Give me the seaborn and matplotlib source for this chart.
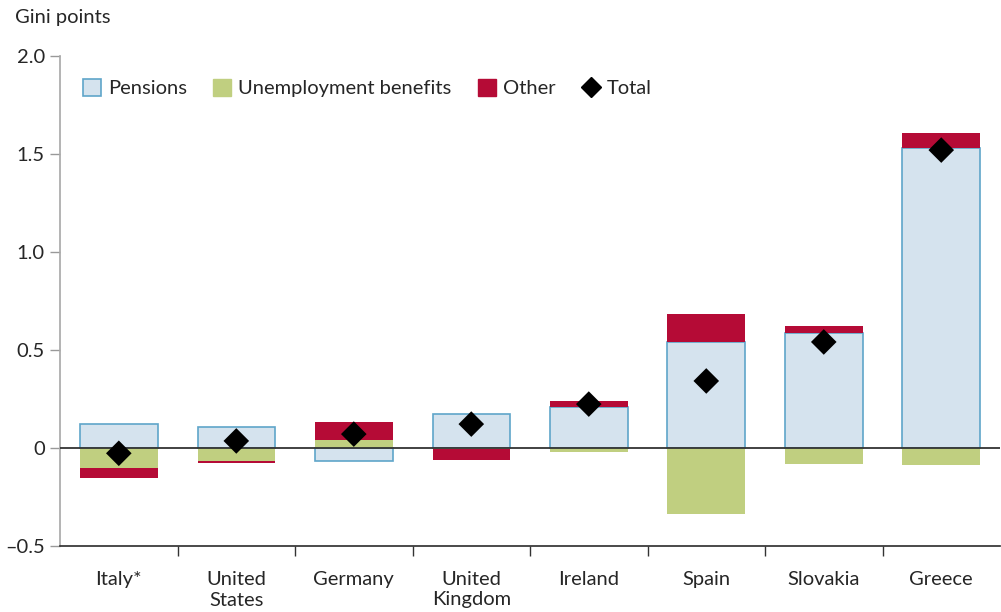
import numpy as np
import pandas as pd
import matplotlib
matplotlib.use("Agg")
import matplotlib.pyplot as plt
from matplotlib.patches import Patch
from matplotlib.lines import Line2D
import seaborn as sns

# Valores (puntos Gini)
countries = ["Italy*", "United\nStates", "Germany", "United\nKingdom",
             "Ireland", "Spain", "Slovakia", "Greece"]
pensions = [0.122, 0.107, -0.066, 0.173, 0.209, 0.541, 0.587, 1.531]
unemployment = [-0.100, -0.066, 0.041, -0.005, -0.020, -0.337, -0.082, -0.087]
other = [-0.052, -0.010, 0.092, -0.056, 0.031, 0.143, 0.036, 0.076]
total = [-0.027, 0.036, 0.071, 0.122, 0.224, 0.342, 0.541, 1.520]
y_ticks = [-0.5, 0, 0.5, 1.0, 1.5, 2.0]
y_labels = ["\u20130.5", "0", "0.5", "1.0", "1.5", "2.0"]

C_PEN, C_PEN_EDGE = "#d5e3ee", "#5fa5c9"
C_UNEMP = "#c0cf80"
C_OTHER = "#b50b36"
FS = 14.5

sns.set_theme(style="white")
plt.rcParams["font.family"] = ["Lato", "DejaVu Sans"]

fig, ax = plt.subplots(figsize=(10.01, 6.12), dpi=100)
fig.subplots_adjust(left=0.06, right=0.999, top=1 - 56 / 612, bottom=1 - 546 / 612)

# apilar positivos hacia arriba y negativos hacia abajo
pos = np.zeros(len(countries))
neg = np.zeros(len(countries))
layers = [(pensions, C_PEN, C_PEN_EDGE), (unemployment, C_UNEMP, C_UNEMP),
          (other, C_OTHER, C_OTHER)]
for vals, fc, ec in layers:
    vals = np.array(vals)
    bottom = np.where(vals >= 0, pos, neg)
    df = pd.DataFrame({"country": countries, "val": vals})
    sns.barplot(data=df, x="country", y="val", order=countries, bottom=bottom,
                color=fc, saturation=1, width=0.66, errorbar=None,
                edgecolor=ec, linewidth=1.2 if fc == C_PEN else 0, ax=ax)
    pos = pos + np.where(vals >= 0, vals, 0)
    neg = neg + np.where(vals < 0, vals, 0)

ax.axhline(0, color="#333333", lw=1.3, zorder=3)
sns.scatterplot(x=countries, y=total, marker="D", s=170, color="black",
                edgecolor="none", zorder=4, ax=ax)

ax.set_xlim(-0.5, len(countries) - 0.5)
ax.set_ylim(-0.5, 2.0)
ax.set_yticks(y_ticks)
ax.set_yticklabels(y_labels, fontsize=FS)
ax.set_xlabel("")
ax.set_ylabel("")
ax.tick_params(axis="x", which="major", length=0, pad=18, labelsize=FS)
ax.set_xticks(np.arange(len(countries) - 1) + 0.5, minor=True)
ax.tick_params(axis="x", which="minor", length=7, width=1, color="#333333",
               direction="out", bottom=True)
ax.tick_params(axis="y", length=7, width=1, color="#999999", direction="out",
               left=True, pad=4)
for lab in ax.get_xticklabels():
    lab.set_linespacing(1.25)
sns.despine(ax=ax, top=True, right=True)
ax.spines["left"].set_color("#aaaaaa")
ax.spines["bottom"].set_color("#333333")
ax.grid(False)

fig.text(15 / 1001, 1 - 18 / 612, "Gini points", fontsize=FS, va="center")

handles = [
    Patch(facecolor=C_PEN, edgecolor=C_PEN_EDGE, lw=1.2, label="Pensions"),
    Patch(facecolor=C_UNEMP, edgecolor=C_UNEMP, label="Unemployment benefits"),
    Patch(facecolor=C_OTHER, edgecolor=C_OTHER, label="Other"),
    Line2D([], [], marker="D", color="black", ls="none", ms=10, label="Total"),
]
ax.legend(handles=handles, loc="upper left", bbox_to_anchor=(0.005, 0.99),
          ncol=4, frameon=False, fontsize=FS, handlelength=0.9,
          handleheight=0.9, handletextpad=0.35, columnspacing=1.3)

fig.savefig("out.png", dpi=100)
